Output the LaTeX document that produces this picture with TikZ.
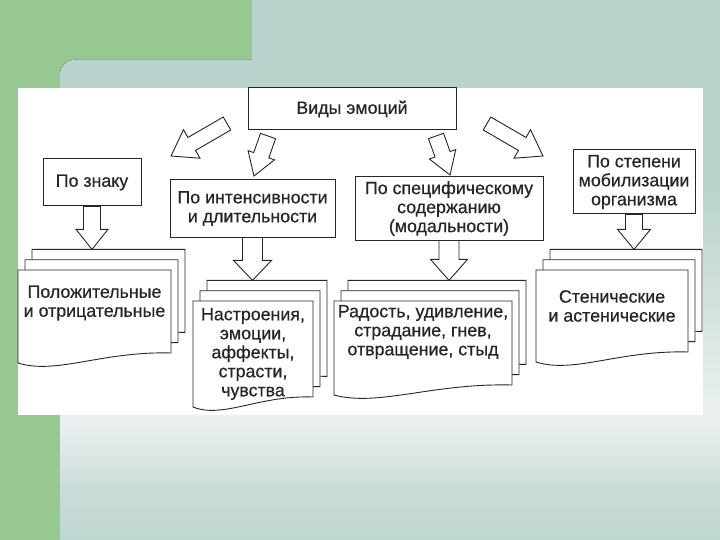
\documentclass[tikz,border=0pt]{standalone}
\usepackage{fontspec}
\setmainfont{Liberation Sans}
\newfontfamily\diagfont{Liberation Sans}[FakeBold=0.6]
\usetikzlibrary{calc}
\definecolor{bgblue}{RGB}{187,211,205}
\definecolor{bglight}{RGB}{236,241,240}
\definecolor{bggreen}{RGB}{152,200,145}
\pgfdeclareverticalshading{slide}{100bp}{color(0bp)=(bgblue); color(25bp)=(bgblue); color(31bp)=(bgblue!70!bglight); color(37bp)=(bglight); color(47bp)=(bgblue!50!bglight); color(57bp)=(bgblue); color(100bp)=(bgblue)}
\tikzset{
    cat/.style={draw=black!85, line width=1pt, fill=white, align=center, inner sep=2pt, text=black!85, font=\diagfont\fontsize{17.8pt}{19pt}\selectfont},
    doctext/.style={align=center, inner sep=0pt, text=black!85, font=\diagfont\fontsize{17.8pt}{19pt}\selectfont},
    fat/.style={draw=black!85, line width=0.9pt, fill=white, line join=miter},
    sheet/.style={draw=black!85, line width=0.9pt, fill=white}
}
\newcommand{\docsheet}[4]{%
    \draw[sheet] (#1,#2) -- ({#1+#3},#2) -- ({#1+#3},{#2+#4})
        .. controls ({#1+0.55*#3},{#2+#4-2}) and ({#1+0.25*#3},{#2+#4+22}) .. (#1,{#2+#4+10}) -- cycle;}
\newcommand{\docstack}[5]{%
    \coordinate (#1) at ({#2+14},{#3-20.6});
    \docsheet{#2+14}{#3-20.6}{#4}{#5}
    \docsheet{#2+7}{#3-10.3}{#4}{#5}
    \docsheet{#2}{#3}{#4}{#5}}
\newcommand{\fatarrow}[5]{%
    \coordinate (fa-b) at ($(#2)!#5pt!(#1)$);
    \draw[fat] ($(#1)!#3pt!90:(#2)$) -- ($(fa-b)!#3pt!90:(#2)$) -- ($(fa-b)!#4pt!90:(#2)$) -- (#2)
        -- ($(fa-b)!#4pt!-90:(#2)$) -- ($(fa-b)!#3pt!-90:(#2)$) -- ($(#1)!#3pt!-90:(#2)$) -- cycle;}

\begin{document}
\begin{tikzpicture}[x=1pt, y=-1pt]
    \useasboundingbox (0,0) rectangle (720,540);
    \fill[bggreen] (0,0) rectangle (720,540);
    \fill[shading=slide, rounded corners=14pt] (60,60) rectangle (740,560) (252,-20) rectangle (740,80);
    \fill[white] (18,88) rectangle (703,415);

    \node[cat, minimum width=208pt, minimum height=42pt] (vid) at (352,109) {Виды эмоций};
    \node[cat, minimum width=98pt, minimum height=47pt] (zn) at (92,182.5) {По знаку};
    \node[cat, minimum width=165pt, minimum height=57pt] (int) at (252.5,208.5) {По интенсивности\\и длительности};
    \node[cat, minimum width=188pt, minimum height=63pt] (spec) at (449,208.5) {По специфическому\\содержанию\\(модальности)};
    \node[cat, minimum width=122pt, minimum height=64pt] (mob) at (634,182) {По степени\\мобилизации\\организма};

    \docstack{st1}{18}{270}{153}{83}
    \docstack{st2}{193}{301}{120}{96}
    \docstack{st3}{334}{301}{178}{84}
    \docstack{st4}{536}{270}{152}{82}

    \node[doctext] (d1) at (94.5,303) {Положительные\\и отрицательные};
    \node[doctext] (d2) at (253,354) {Настроения,\\эмоции,\\аффекты,\\страсти,\\чувства};
    \node[doctext] (d3) at (423,332) {Радость, удивление,\\страдание, гнев,\\отвращение, стыд};
    \node[doctext] (d4) at (612,306) {Стенические\\и астенические};

    \coordinate (a1s) at (227,123.5);
    \coordinate (a1e) at (171,156);
    \coordinate (a2s) at (268,136);
    \coordinate (a2e) at (254,176);
    \coordinate (a3s) at (436,136);
    \coordinate (a3e) at (450,175);
    \coordinate (a4s) at (487,123.5);
    \coordinate (a4e) at (543,156);
    \fatarrow{a1s}{a1e}{7.5}{16.5}{24}
    \fatarrow{a2s}{a2e}{8}{14}{22}
    \fatarrow{a3s}{a3e}{8}{14}{22}
    \fatarrow{a4s}{a4e}{7.5}{16.5}{24}

    \coordinate (t1) at (zn.south |- st1);
    \coordinate (t2) at (int.south |- st2);
    \coordinate (t3) at (spec.south |- st3);
    \coordinate (t4) at (mob.south |- st4);
    \fatarrow{zn.south}{t1}{8.5}{16}{20}
    \fatarrow{int.south}{t2}{10}{19}{20}
    \fatarrow{spec.south}{t3}{10}{18.5}{21}
    \fatarrow{mob.south}{t4}{8.5}{16.5}{20}
\end{tikzpicture}
\end{document}
